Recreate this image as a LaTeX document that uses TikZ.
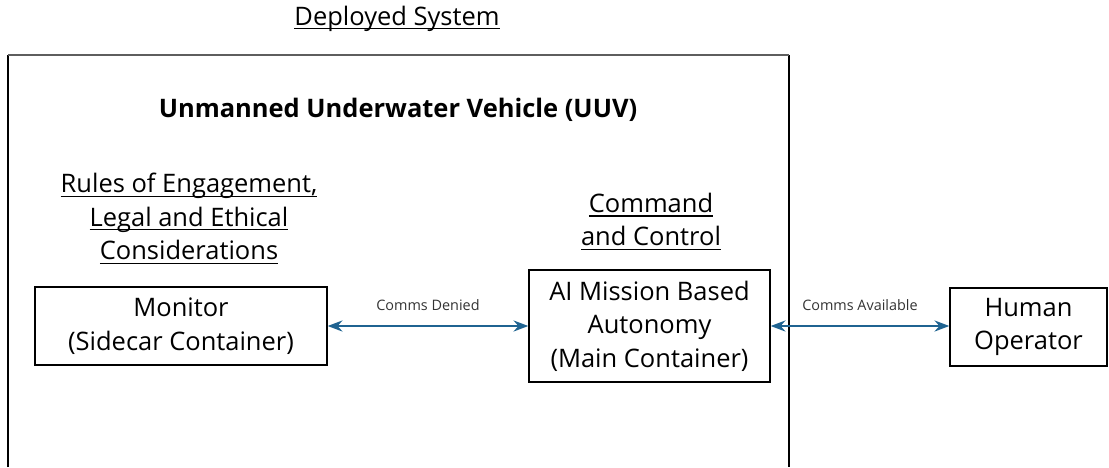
\documentclass[tikz,border=0pt]{standalone}
\usepackage{amsmath}
\usepackage{fontspec}
\setmainfont{Open Sans}
\usetikzlibrary{arrows.meta}
\definecolor{arrowblue}{HTML}{1F6391}
\definecolor{framegray}{HTML}{5E5E5E}
\tikzset{>=Stealth}
\newcommand{\uln}[1]{\underline{\smash[b]{#1}}}

\begin{document}
\begin{tikzpicture}[x=0.02cm,y=-0.02cm,
    txt/.style={font=\fontsize{14.5}{19}\selectfont,align=center,inner sep=0pt},
    unit/.style={txt,draw,line width=0.8pt},
    link/.style={<->,arrowblue,line width=1.2pt},
    tag/.style={font=\fontsize{8.2}{10}\selectfont,text=black!80,above=5pt}]
  \useasboundingbox (0,0) rectangle (1109,467);
  % outer frame (bottom cut off)
  \draw[line width=1pt] (8,467) -- (8,55) (789,55) -- (789,467);
  \draw[framegray,line width=1.5pt] (8,55) -- (789,55);
  \node[txt] (sys) at (397,18) {\uln{Deployed System}};
  \node[txt,font=\fontsize{14.5}{19}\selectfont\bfseries] (uuv) at (398,110) {Unmanned Underwater Vehicle (UUV)};
  \node[txt] (roe) at (189,219) {\uln{Rules of Engagement,}\\\uln{Legal and Ethical}\\\uln{Considerations}};
  \node[txt] (cc) at (651,222) {\uln{Command}\\\uln{and Control}};
  % containers
  \node[unit,minimum width=5.84cm,minimum height=1.56cm] (mon) at (181,326) {Monitor\\(Sidecar Container)};
  \node[unit,minimum width=4.82cm,minimum height=2.24cm] (ai) at (649.5,326) {AI Mission Based\\Autonomy\\(Main Container)};
  \node[unit,minimum width=3.14cm,minimum height=1.56cm] (hum) at (1028.5,327) {Human\\Operator};
  \draw[link] (mon.east) -- node[tag] {Comms Denied} (ai.west);
  \draw[link] (ai.east) -- node[tag] {Comms Available} (ai.east -| hum.west);
\end{tikzpicture}
\end{document}
